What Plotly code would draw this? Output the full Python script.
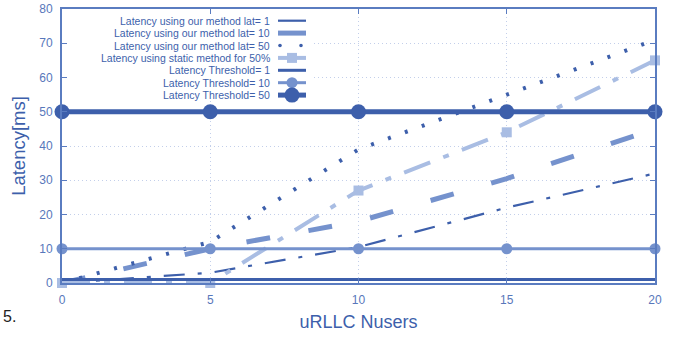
import plotly.graph_objects as go

# Number of uRLLC users on the x axis
nusers = [0, 5, 10, 15, 20]

# Latency curves (ms)
lat_our_1 = [0, 3, 10.5, 22, 32]
lat_our_10 = [0, 10, 18, 30.5, 45]
lat_our_50 = [0, 12, 39, 55, 71]
lat_static_50 = [0, 0, 27, 44, 65]

# Latency thresholds (ms)
thr_1 = [1, 1, 1, 1, 1]
thr_10 = [10, 10, 10, 10, 10]
thr_50 = [50, 50, 50, 50, 50]

legend_labels = [
    "Latency using our method lat= 1",
    "Latency using our method lat= 10",
    "Latency using our method lat= 50",
    "Latency using static method for 50%",
    "Latency Threshold= 1",
    "Latency Threshold= 10",
    "Latency Threshold= 50",
]

DARK = "#3d5fab"
MID = "#7592cd"
LIGHT = "#a9bde3"
FRAME = "#5a7cc0"
TICK = "#5877bb"
GRID = "#c3cfea"
FONT = "Liberation Sans, Arial, sans-serif"

W, H = 686, 337
ML, MR, MT, MB = 62, 31, 9, 54
PW, PH = W - ML - MR, H - MT - MB


def px(x):
    return (x - ML) / PW


def py(y):
    return (H - MB - y) / PH


fig = go.Figure()

styles = [
    (lat_our_1, dict(color=DARK, width=2.2, dash="21px,13px,4px,13px"), None),
    (lat_our_10, dict(color=MID, width=5, dash="24px,39px"), None),
    (lat_our_50, dict(color=DARK, width=4, dash="3px,15px"), None),
    (lat_static_50, dict(color=LIGHT, width=4, dash="28px,14px,6px,14px"),
     dict(symbol="square", size=10, color=LIGHT)),
    (thr_1, dict(color=DARK, width=3), None),
    (thr_10, dict(color=MID, width=3), dict(symbol="circle", size=11, color=MID)),
    (thr_50, dict(color=DARK, width=5), dict(symbol="circle", size=15, color=DARK)),
]

for (ys, line, marker), name in zip(styles, legend_labels):
    fig.add_trace(go.Scatter(
        x=nusers, y=ys, name=name,
        mode="lines+markers" if marker else "lines",
        line=line, marker=marker, cliponaxis=False, showlegend=False,
    ))

axis_common = dict(
    showline=True, linecolor=FRAME, linewidth=2, mirror="allticks",
    ticks="inside", ticklen=5, tickcolor=FRAME, tickwidth=1,
    showgrid=True, gridcolor=GRID, griddash="1px,3px", gridwidth=1,
    zeroline=False, automargin=False,
    tickfont=dict(family=FONT, size=12, color=TICK),
)

fig.update_xaxes(range=[0, 20], dtick=5, tick0=0, ticklabelstandoff=5,
                 title=dict(text="uRLLC Nusers", standoff=9,
                            font=dict(family=FONT, size=18, color=DARK)),
                 **axis_common)
fig.update_yaxes(range=[0, 80], dtick=10, tick0=0, ticklabelstandoff=5,
                 title=dict(text="Latency[ms]", standoff=9,
                            font=dict(family=FONT, size=18.5, color=DARK)),
                 **axis_common)

# Key: white box, right-aligned labels and line samples to the right
shapes = [dict(type="rect", xref="paper", yref="paper", layer="above",
               x0=px(68), x1=px(312), y0=py(16), y1=py(101),
               fillcolor="white", line=dict(width=0))]
annotations = []
row0, step = 20.7, 12.4
sx0, sx1 = 278, 306
for i, ((ys, line, marker), name) in enumerate(zip(styles, legend_labels)):
    yy = row0 + step * i
    annotations.append(dict(
        text=name, xref="paper", yref="paper", x=px(272), y=py(yy),
        xanchor="right", yanchor="middle", showarrow=False,
        font=dict(family=FONT, size=10.5, color=DARK),
    ))
    sl = dict(color=line["color"], width=line["width"])
    if i == 2:
        for xd in (sx0 + 2, sx1 - 5):
            shapes.append(dict(type="circle", xref="paper", yref="paper",
                               xsizemode="pixel", ysizemode="pixel",
                               xanchor=px(xd), yanchor=py(yy),
                               x0=-1.8, x1=1.8, y0=-1.8, y1=1.8,
                               fillcolor=DARK, line=dict(width=0), layer="above"))
        continue
    shapes.append(dict(type="line", xref="paper", yref="paper", layer="above",
                       x0=px(sx0), x1=px(sx1), y0=py(yy), y1=py(yy), line=sl))
    if marker:
        r = marker["size"] / 2
        shapes.append(dict(type="rect" if marker["symbol"] == "square" else "circle",
                           xref="paper", yref="paper", layer="above",
                           xsizemode="pixel", ysizemode="pixel",
                           xanchor=px((sx0 + sx1) / 2), yanchor=py(yy),
                           x0=-r, x1=r, y0=-r, y1=r,
                           fillcolor=marker["color"], line=dict(width=0)))

annotations.append(dict(text="5.", xref="paper", yref="paper",
                        x=px(1), y=py(316), xanchor="left", yanchor="middle",
                        showarrow=False, font=dict(family=FONT, size=16, color="#222222")))

fig.update_layout(
    width=W, height=H,
    margin=dict(l=ML, r=MR, t=MT, b=MB, autoexpand=False),
    plot_bgcolor="white", paper_bgcolor="white",
    shapes=shapes, annotations=annotations,
    showlegend=False,
)

fig.write_html("out.html")
